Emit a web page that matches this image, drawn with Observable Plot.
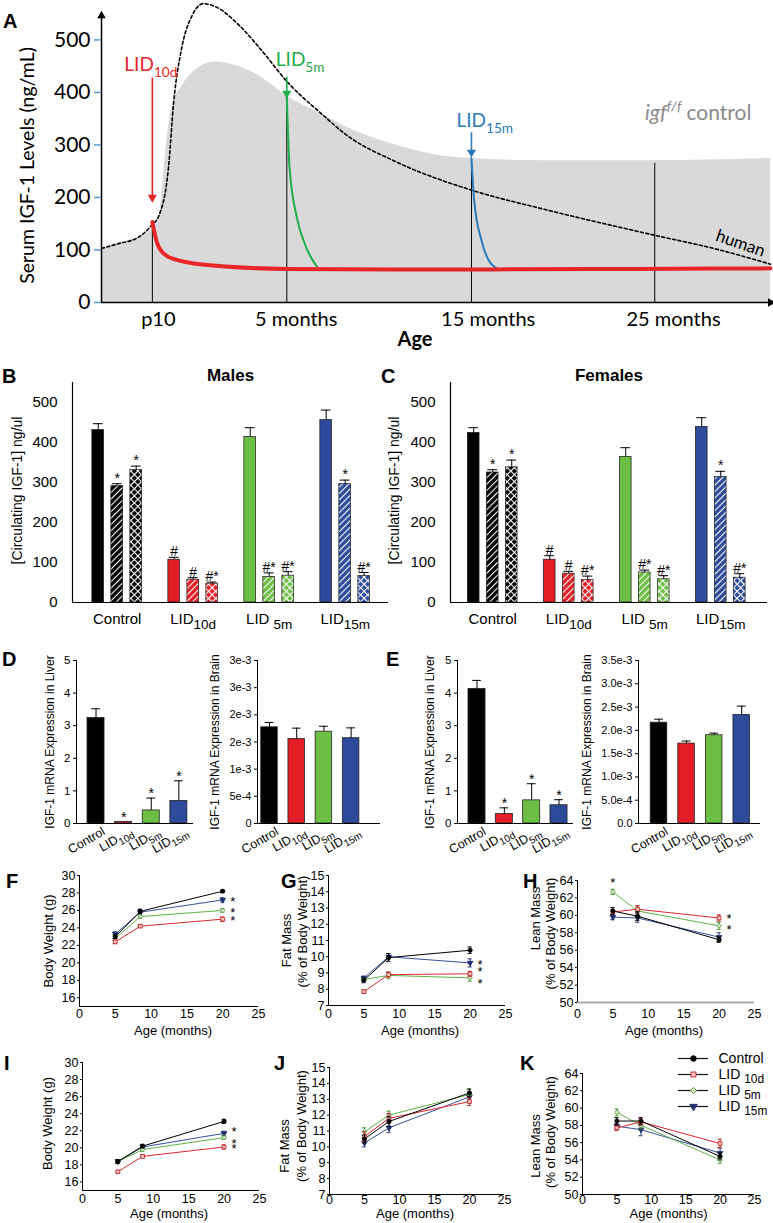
<!DOCTYPE html>
<html><head><meta charset="utf-8">
<script src="https://cdn.jsdelivr.net/npm/d3@7"></script>
<script src="https://cdn.jsdelivr.net/npm/@observablehq/plot@0.6"></script>
<style>
body{margin:0;background:#fff}
#fig{position:relative;width:773px;height:1223px;overflow:hidden;background:#fff;font-family:"Liberation Sans",Arial,sans-serif}
.letter{position:absolute;font-weight:bold;font-size:20px;line-height:1;font-family:"Liberation Sans",Arial,sans-serif}
</style></head>
<body><div id="fig"></div>
<script>
// ================= DATA =================
// Panel A (schematic): age axis in relative units (0-100), serum IGF-1 in ng/mL
const aAgeTicks = ["p10", "5 months", "15 months", "25 months"];
const aAgeTickAt = [8.5, 29.1, 57.8, 85.5];
const aYTicks = [0, 100, 200, 300, 400, 500];
const aTreatX = [7.6, 27.7, 55.3, 82.7];
const aTreatTop = [153, 391, 275, 265];
const aCtrlX = [0, 3.4, 7.1, 8.6, 9.1, 9.6, 10.4, 12.2, 14.4, 17, 20.4, 24, 27.7, 33, 38, 44, 50, 55.3, 66, 81.6, 100];
const aCtrlY = [100, 115, 134, 159, 220, 287, 365, 415, 446, 458, 450, 428, 393, 358, 326, 300, 281, 274, 270, 270, 274];
const aHumanX = [0, 2.5, 5.5, 7.5, 8.6, 10, 10.8, 11.9, 13.7, 15.2, 17.4, 20.4, 24, 27.7, 33, 36.5, 44, 55.3, 66, 82.7, 91.8, 100];
const aHumanY = [103, 112, 124, 147, 166, 255, 383, 479, 550, 569, 561, 530, 479, 421, 358, 320, 268, 214, 178, 128, 102, 73];
const aLid10dX = [7.6, 8.2, 9.3, 11, 13, 18, 27.7, 44, 58.8, 80, 100];
const aLid10dY = [153, 118, 93, 82, 76, 69, 64, 63, 63, 64, 65];
const aLid5mX = [27.7, 28.1, 29.2, 30.6, 32.5];
const aLid5mY = [391, 258, 162, 105, 63];
const aLid15mX = [55.3, 55.7, 56.8, 57.9, 59.4];
const aLid15mY = [275, 195, 118, 80, 63];
const aArrowX = [7.6, 27.7, 55.3];
const aArrowFrom = [427, 429, 323];
const aArrowTo = [200, 398, 286];
const aArrowLabels = ["LID_{10d}", "LID_{5m}", "LID_{15m}"];

// Panels B/C: circulating IGF-1 (ng/ul); per group: [solid, hatched, cross-hatched]
const bcGroups = ["Control", "LID_{10d}", "LID _{5m}", "LID_{15m}"];
const bcTicks = [0, 100, 200, 300, 400, 500];
const malesVal = [[431, 291, 331], [107, 57, 47], [414, 64, 67], [456, 296, 66]];
const malesErr = [[16, 6, 10], [6, 5, 4], [23, 10, 10], [25, 10, 9]];
const malesSig = [["", "*", "*"], ["#", "#", "#*"], ["", "#*", "#*"], ["", "*", "#*"]];
const femalesVal = [[424, 325, 338], [107, 72, 56], [364, 75, 58], [439, 314, 62]];
const femalesErr = [[13, 7, 18], [10, 6, 10], [23, 6, 9], [23, 14, 10]];
const femalesSig = [["", "*", "*"], ["#", "#", "#*"], ["", "#*", "#*"], ["", "*", "#*"]];

// Panels D/E: IGF-1 mRNA expression
const mrnaGroups = ["Control", "LID_{10d}", "LID_{5m}", "LID_{15m}"];
const liverTicks = [0, 1, 2, 3, 4, 5];
const dLiverVal = [3.24, 0.05, 0.40, 0.69];
const dLiverErr = [0.28, 0, 0.38, 0.62];
const dLiverSig = ["", "*", "*", "*"];
const dBrainVal = [1.77e-3, 1.555e-3, 1.69e-3, 1.57e-3];
const dBrainErr = [0.09e-3, 0.2e-3, 0.1e-3, 0.19e-3];
const dBrainTicks = [0, 5e-4, 1e-3, 1.5e-3, 2e-3, 2.5e-3, 3e-3];
const dBrainTickLabels = ["0", "5e-4", "1e-3", "2e-3", "2e-3", "3e-3", "3e-3"];
const eLiverVal = [4.13, 0.29, 0.71, 0.56];
const eLiverErr = [0.26, 0.19, 0.51, 0.17];
const eLiverSig = ["", "*", "*", "*"];
const eBrainVal = [2.165e-3, 1.716e-3, 1.895e-3, 2.33e-3];
const eBrainErr = [0.075e-3, 0.055e-3, 0.045e-3, 0.19e-3];
const eBrainTicks = [0, 5e-4, 1e-3, 1.5e-3, 2e-3, 2.5e-3, 3e-3, 3.5e-3];
const eBrainTickLabels = ["0.0", "5.0e-4", "1.0e-3", "1.5e-3", "2.0e-3", "2.5e-3", "3.0e-3", "3.5e-3"];

// Panels F-K: series Control, LID10d, LID5m, LID15m at ages (months)
const months = [5, 8.5, 20];
const monthTicks = [0, 5, 10, 15, 20, 25];
const legendLabels = ["Control", "LID _{10d}", "LID _{5m}", "LID _{15m}"];
const fVal = [[23.0, 25.9, 28.2], [22.4, 24.2, 25.0], [22.8, 25.3, 26.0], [23.3, 25.8, 27.2]];
const fErr = [[0.2, 0.25, 0.15], [0.2, 0.15, 0.25], [0.25, 0.2, 0.2], [0.25, 0.25, 0.25]];
const gVal = [[8.55, 9.95, 10.4], [7.85, 8.9, 8.95], [8.6, 8.85, 8.7], [8.7, 10.0, 9.62]];
const gErr = [[0.15, 0.25, 0.2], [0.1, 0.15, 0.15], [0.1, 0.2, 0.2], [0.1, 0.2, 0.25]];
const hVal = [[60.5, 59.9, 57.2], [60.4, 60.7, 59.7], [62.7, 60.5, 58.8], [59.8, 59.7, 57.5]];
const hErr = [[0.4, 0.5, 0.3], [0.3, 0.4, 0.35], [0.3, 0.6, 0.4], [0.3, 0.5, 0.5]];
const iVal = [[18.4, 20.2, 23.1], [17.2, 19.0, 20.1], [18.4, 19.8, 21.2], [18.4, 20.1, 21.7]];
const iErr = [[0.2, 0.2, 0.25], [0.15, 0.15, 0.25], [0.2, 0.2, 0.2], [0.2, 0.2, 0.25]];
const jVal = [[10.5, 11.6, 13.4], [10.65, 11.8, 12.85], [10.95, 12.0, 13.3], [10.25, 11.2, 13.15]];
const jErr = [[0.25, 0.3, 0.25], [0.3, 0.3, 0.25], [0.25, 0.25, 0.3], [0.25, 0.3, 0.3]];
const kVal = [[58.5, 58.5, 54.4], [57.7, 58.4, 55.9], [59.5, 58.0, 54.0], [57.9, 57.5, 54.8]];
const kErr = [[0.4, 0.4, 0.4], [0.3, 0.4, 0.5], [0.4, 0.4, 0.4], [0.3, 0.7, 0.6]];
// significance stars: [series, month index, placement, vertical nudge]
const fStars = [[1, 2, "r", 2], [2, 2, "r", 2], [3, 2, "r", 2]];
const gStars = [[1, 2, "r", -2], [2, 2, "r", 6], [3, 2, "r", 2]];
const hStars = [[1, 2, "r", 1], [2, 2, "r", 4], [2, 0, "t", -9]];
const iStars = [[1, 2, "r", 2], [2, 2, "r", 6], [3, 2, "r", -1]];

// ================= STYLE =================
const NS = "http://www.w3.org/2000/svg";
const fig = document.getElementById("fig");
const SANS = "'Liberation Sans', Arial, sans-serif";
const NARROW = "'Liberation Sans Narrow', 'Arial Narrow', 'Liberation Sans', Arial, sans-serif";
const barColors = ["#000000", "#e41e26", "#6dbe45", "#2e4b9b"];
const barKeys = ["k", "r", "g", "b"];
const barTypes = ["solid", "hatch", "cross"];
const serColor = ["#000000", "#e0262b", "#5fb346", "#3850a0"];
const serSymbol = ["circle", "square", "diamond2", "triangle"];
const serFill = ["#000000", "#f6c9c9", "#d6ecc9", "#1e2f6e"];
const serStroke = ["#000000", "#c0161c", "#3f8f2a", "#1e2f6e"];
const serRotate = [0, 0, 0, 180];
const MID = {textAnchor: "middle", lineAnchor: "middle"};

function place(svg, left, top) {
  svg.style.position = "absolute";
  svg.style.left = left + "px";
  svg.style.top = top + "px";
  svg.style.overflow = "visible";
  fig.appendChild(svg);
  return svg;
}
function letter(ch, left, top) {
  const d = document.createElement("div");
  d.className = "letter"; d.textContent = ch;
  d.style.left = left + "px"; d.style.top = top + "px";
  fig.appendChild(d);
}
function rich(svg, {sub = 0.8, shift = 0.3, sup = 0.7, supShift = 0.45} = {}) {
  svg.querySelectorAll("text").forEach(t => {
    const targets = t.querySelector("tspan") ? [...t.querySelectorAll("tspan")] : [t];
    targets.forEach(el => {
      const s = el.textContent;
      if (!/[_^]\{/.test(s)) return;
      const fs = parseFloat(getComputedStyle(el).fontSize) || 12;
      el.textContent = "";
      const re = /([_^])\{([^}]*)\}/g;
      let last = 0, m, cur = 0;
      const add = (str, off, scale) => {
        if (!str) return;
        const ts = document.createElementNS(NS, "tspan");
        ts.textContent = str;
        const dy = off - cur;
        if (dy) ts.setAttribute("dy", dy.toFixed(2));
        if (scale !== 1) ts.setAttribute("font-size", (fs * scale).toFixed(2));
        cur = off;
        el.appendChild(ts);
      };
      while ((m = re.exec(s))) {
        if (m.index > last) add(s.slice(last, m.index), 0, 1);
        if (m[1] === "_") add(m[2], fs * shift, sub); else add(m[2], -fs * supShift, sup);
        last = re.lastIndex;
      }
      if (last < s.length) add(s.slice(last), 0, 1);
    });
  });
}
const baseStyle = (ff) => ({fontFamily: ff, overflow: "visible", background: "transparent", color: "#000"});

// ================= PANEL A =================
{
  const zip = (xs, ys) => xs.map((x, i) => ({x, v: ys[i]}));
  const treat = aTreatX.map((x, i) => ({x, top: aTreatTop[i]}));
  const aColors = ["#e8262a", "#1fae4b", "#2a7ab9"];
  const arrowMarks = [];
  aArrowX.forEach((x, i) => {
    const row = [{x, from: aArrowFrom[i], to: aArrowTo[i], label: aArrowLabels[i]}];
    arrowMarks.push(Plot.ruleX(row, {x: "x", y1: "from", y2: "to", stroke: aColors[i], strokeWidth: 1.6}));
    arrowMarks.push(Plot.dot(row, {x: "x", y: "to", symbol: "triangle", rotate: 180, r: 3.4, fill: aColors[i], stroke: "none"}));
    const off = [[-28, -13], [-11, -17], [-15, -12]][i];
    arrowMarks.push(Plot.text(row, {x: "x", y: "from", text: "label", textAnchor: "start", lineAnchor: "middle", dx: off[0], dy: off[1], fill: aColors[i], fontSize: 19}));
  });
  const svg = Plot.plot({
    width: 773, height: 345, marginLeft: 101, marginRight: 3, marginTop: 0, marginBottom: 43,
    x: {domain: [0, 100], axis: null}, y: {domain: [0, 575], axis: null},
    style: baseStyle("Lato, 'Open Sans', sans-serif"),
    marks: [
      Plot.areaY(zip(aCtrlX, aCtrlY), {x: "x", y: "v", fill: "#d9d9d9", curve: "monotone-x"}),
      Plot.ruleX(treat, {x: "x", y1: 0, y2: "top", stroke: "#000", strokeWidth: 1}),
      Plot.line(zip(aHumanX, aHumanY), {x: "x", y: "v", stroke: "#000", strokeWidth: 1.6, strokeDasharray: "3,2.5", curve: "monotone-x"}),
      Plot.line(zip(aLid5mX, aLid5mY), {x: "x", y: "v", stroke: "#1fae4b", strokeWidth: 2, curve: "monotone-x"}),
      Plot.line(zip(aLid15mX, aLid15mY), {x: "x", y: "v", stroke: "#2a7ab9", strokeWidth: 2, curve: "monotone-x"}),
      Plot.line(zip(aLid10dX, aLid10dY), {x: "x", y: "v", stroke: "#e8262a", strokeWidth: 4, curve: "monotone-x"}),
      ...arrowMarks,
      Plot.ruleY([0], {stroke: "#000", strokeWidth: 1.5}),
      Plot.ruleX([0], {y1: 0, y2: 546, stroke: "#000", strokeWidth: 1.5}),
      Plot.dot([100], {x: d => d, y: 0, symbol: "triangle", rotate: 90, r: 3.2, fill: "#000"}),
      Plot.dot([546], {x: 0, y: d => d, symbol: "triangle", r: 3.2, fill: "#000"}),
      Plot.axisY(aYTicks, {tickSize: 7, tickPadding: 4, stroke: "#5b9bd5", strokeWidth: 1.5, fontSize: 21, label: null}),
      Plot.text(aAgeTicks.map((label, i) => ({label, at: aAgeTickAt[i]})), {x: "at", text: "label", frameAnchor: "bottom", ...MID, dy: 17, fontSize: 20}),
      Plot.text(["Age"], {frameAnchor: "bottom", ...MID, dx: -21, dy: 37, fontSize: 20, fontWeight: "bold"}),
      Plot.text(["Serum IGF-1 Levels (ng/mL)"], {frameAnchor: "left", ...MID, rotate: -90, dx: -74, dy: 14, fontSize: 19.5}),
      Plot.text(["igf^{f/f}"], {frameAnchor: "left", textAnchor: "end", lineAnchor: "middle", dx: 580, dy: -38, fontSize: 21, fontStyle: "italic", fill: "#8a8a8a"}),
      Plot.text(["control"], {frameAnchor: "left", textAnchor: "start", lineAnchor: "middle", dx: 585, dy: -38, fontSize: 21, fill: "#8a8a8a"}),
      Plot.text(["human"], {frameAnchor: "left", ...MID, rotate: 19, dx: 639, dy: 92, fontSize: 17})
    ]
  });
  place(svg, 0, 0);
  rich(svg, {sub: 0.72, shift: 0.3, sup: 0.68, supShift: 0.45});
  letter("A", 3, 11);
}

// ================= PANELS B / C =================
function makePattern(id, color, cross) {
  const s = cross ? 5 : 4.5;
  const p = document.createElementNS(NS, "pattern");
  p.setAttribute("id", id); p.setAttribute("patternUnits", "userSpaceOnUse");
  p.setAttribute("width", s); p.setAttribute("height", s);
  p.setAttribute("patternTransform", "rotate(45)");
  const mk = (tag, attrs) => { const e = document.createElementNS(NS, tag); for (const k in attrs) e.setAttribute(k, attrs[k]); p.appendChild(e); };
  mk("rect", {width: s, height: s, fill: color});
  mk("line", {x1: s / 2, y1: 0, x2: s / 2, y2: s, stroke: "#fff", "stroke-width": 1.1});
  if (cross) mk("line", {x1: 0, y1: s / 2, x2: s, y2: s / 2, stroke: "#fff", "stroke-width": 1.1});
  return p;
}
function barPanelBC({prefix, vals, errs, sigs, title, left, width, ml, mr, xDomain, ytDx}) {
  const rows = [];
  vals.forEach((arr, g) => arr.forEach((v, t) => rows.push({g, t, pos: g * 4 + t, v, e: errs[g][t], sig: sigs[g][t]})));
  const fillOf = d => d.t === 0 ? barColors[d.g] : `url(#${prefix}-${barTypes[d.t]}-${barKeys[d.g]})`;
  const svg = Plot.plot({
    width, height: 275, marginLeft: ml, marginRight: mr, marginTop: 17, marginBottom: 38,
    x: {domain: xDomain, axis: null}, y: {domain: [0, 550], axis: null},
    color: {type: "identity"},
    style: baseStyle(SANS),
    marks: [
      Plot.rect(rows, {x1: "pos", x2: d => d.pos + 1, y1: 0, y2: "v", fill: fillOf, stroke: "#1a1a1a", strokeWidth: 0.7, insetLeft: 3.65, insetRight: 3.65}),
      Plot.ruleX(rows, {x: d => d.pos + 0.5, y1: "v", y2: d => d.v + d.e, stroke: "#000"}),
      Plot.ruleY(rows, {y: d => d.v + d.e, x1: d => d.pos + 0.24, x2: d => d.pos + 0.76, stroke: "#000"}),
      Plot.text(rows.filter(d => d.sig), {x: d => d.pos + 0.5, y: d => d.v + d.e, text: "sig", lineAnchor: "bottom", dy: -1, fontSize: 14}),
      Plot.ruleY([0], {stroke: "#000", strokeWidth: 1.2}),
      Plot.ruleX([xDomain[0]], {stroke: "#000", strokeWidth: 1.2}),
      Plot.axisY(bcTicks, {tickSize: 0, tickPadding: 15, fontSize: 15, label: null}),
      Plot.text(bcGroups, {x: (d, i) => i * 4 + 1.5, text: d => d, frameAnchor: "bottom", ...MID, dy: 17, fontSize: 15}),
      Plot.text([title], {frameAnchor: "top", ...MID, dy: -7, fontWeight: "bold", fontSize: 17}),
      Plot.text(["[Circulating IGF-1] ng/ul"], {frameAnchor: "left", ...MID, rotate: -90, dx: ytDx, dy: -2, fontSize: 14})
    ]
  });
  const defs = document.createElementNS(NS, "defs");
  barKeys.forEach((k, g) => {
    defs.appendChild(makePattern(`${prefix}-hatch-${k}`, barColors[g], false));
    defs.appendChild(makePattern(`${prefix}-cross-${k}`, barColors[g], true));
  });
  svg.insertBefore(defs, svg.firstChild);
  place(svg, left, 365);
  rich(svg, {sub: 0.9, shift: 0.3});
}
barPanelBC({prefix: "b", vals: malesVal, errs: malesErr, sigs: malesSig, title: "Males", left: 0, width: 395, ml: 72, mr: 7, xDomain: [-0.853, 15.78], ytDx: -55});
barPanelBC({prefix: "c", vals: femalesVal, errs: femalesErr, sigs: femalesSig, title: "Females", left: 380, width: 393, ml: 70, mr: 6, xDomain: [-0.721, 15.96], ytDx: -56});
letter("B", 2, 366);
letter("C", 381, 366);

// ================= PANELS D / E =================
function mrnaPanel({left, width, ml, mr, xDomain, yDomain, ticks, tickLabels, vals, errs, sigs, ytitle, ytDx, inset, tickFont}) {
  const rows = vals.map((v, i) => ({i, v, e: errs[i], sig: sigs ? sigs[i] : "", color: barColors[i]}));
  const withErr = rows.filter(d => d.e > 0);
  const svg = Plot.plot({
    width, height: 215, marginLeft: ml, marginRight: mr, marginTop: 15, marginBottom: 37,
    x: {domain: xDomain, axis: null}, y: {domain: yDomain, axis: null},
    color: {type: "identity"},
    style: baseStyle(SANS),
    marks: [
      Plot.rect(rows, {x1: "i", x2: d => d.i + 1, y1: 0, y2: "v", fill: "color", stroke: "#222", strokeWidth: 0.8, insetLeft: inset, insetRight: inset}),
      Plot.ruleX(withErr, {x: d => d.i + 0.5, y1: "v", y2: d => d.v + d.e, stroke: "#000"}),
      Plot.ruleY(withErr, {y: d => d.v + d.e, x1: d => d.i + 0.34, x2: d => d.i + 0.66, stroke: "#000"}),
      Plot.text(rows.filter(d => d.sig), {x: d => d.i + 0.5, y: d => d.v + d.e, text: "sig", lineAnchor: "bottom", dy: 0, fontSize: 14}),
      Plot.ruleY([yDomain[0]], {stroke: "#000", strokeWidth: 1}),
      Plot.ruleX([xDomain[0]], {stroke: "#000", strokeWidth: 1}),
      Plot.axisY(ticks, {tickSize: 3, tickPadding: 3, fontSize: tickFont, label: null,
        tickFormat: tickLabels ? (d => tickLabels[ticks.indexOf(d)]) : (d => String(d))}),
      Plot.text(mrnaGroups, {x: (d, i) => i + 0.5, text: d => d, frameAnchor: "bottom", rotate: -30, textAnchor: "end", lineAnchor: "middle", dx: 8, dy: 7, fontSize: 12.5}),
      Plot.text([ytitle], {frameAnchor: "left", ...MID, rotate: -90, dx: ytDx, dy: 0, fontSize: 12})
    ]
  });
  place(svg, left, 645);
  rich(svg, {sub: 0.8, shift: 0.3});
}
mrnaPanel({left: 0, width: 200, ml: 76, mr: 7, xDomain: [-0.207, 4.03], yDomain: [0, 5], ticks: liverTicks, vals: dLiverVal, errs: dLiverErr, sigs: dLiverSig, ytitle: "IGF-1 mRNA Expression in Liver", ytDx: -26, inset: 5.3, tickFont: 11.5});
mrnaPanel({left: 200, width: 190, ml: 57, mr: 10, xDomain: [0.059, 4.58], yDomain: [0, 3e-3], ticks: dBrainTicks, tickLabels: dBrainTickLabels, vals: dBrainVal, errs: dBrainErr, ytitle: "IGF-1 mRNA Expression in Brain", ytDx: -42, inset: 5.35, tickFont: 11});
mrnaPanel({left: 380, width: 200, ml: 77, mr: 7, xDomain: [-0.214, 4.03], yDomain: [0, 5], ticks: liverTicks, vals: eLiverVal, errs: eLiverErr, sigs: eLiverSig, ytitle: "IGF-1 mRNA Expression in Liver", ytDx: -27, inset: 5.15, tickFont: 11.5});
mrnaPanel({left: 580, width: 193, ml: 58, mr: 13, xDomain: [-0.243, 4.18], yDomain: [0, 3.5e-3], ticks: eBrainTicks, tickLabels: eBrainTickLabels, vals: eBrainVal, errs: eBrainErr, ytitle: "IGF-1 mRNA Expression in Brain", ytDx: -51, inset: 5.5, tickFont: 11});
letter("D", 2, 649);
letter("E", 386, 649);

// ================= PANELS F - K =================
function linePanel(p) {
  const marks = [
    Plot.ruleY([p.yDomain[0]], {stroke: p.xAxisColor || "#000", strokeWidth: p.xAxisWidth || 1}),
    Plot.ruleX([0], {stroke: "#000", strokeWidth: 1}),
    Plot.axisY(p.yTicks, {tickSize: 2, tickPadding: 2, fontSize: 12.5, fontFamily: NARROW, label: null}),
    Plot.axisX(monthTicks, {tickSize: 0, tickPadding: p.xPad, fontSize: 12.5, fontFamily: NARROW, label: null}),
    Plot.text(["Age (months)"], {frameAnchor: "bottom", ...MID, dx: p.atDx, dy: p.atDy, fontSize: 13})
  ];
  p.titles.forEach(([txt, dx, dy]) => marks.push(Plot.text([txt], {frameAnchor: "left", ...MID, rotate: -90, dx, dy, fontSize: 13})));
  const order = [3, 2, 1, 0];
  const series = p.vals.map((arr, s) => arr.map((v, k) => ({m: months[k], v, e: p.errs[s][k]})));
  order.forEach(s => marks.push(Plot.line(series[s], {x: "m", y: "v", stroke: serColor[s], strokeWidth: 1})));
  order.forEach(s => {
    marks.push(Plot.ruleX(series[s], {x: "m", y1: d => d.v - d.e, y2: d => d.v + d.e, stroke: serStroke[s], strokeWidth: 0.9}));
    marks.push(Plot.ruleY(series[s], {y: d => d.v + d.e, x1: d => d.m - 0.3, x2: d => d.m + 0.3, stroke: serStroke[s], strokeWidth: 0.9}));
    marks.push(Plot.ruleY(series[s], {y: d => d.v - d.e, x1: d => d.m - 0.3, x2: d => d.m + 0.3, stroke: serStroke[s], strokeWidth: 0.9}));
    marks.push(Plot.dot(series[s], {x: "m", y: "v", symbol: serSymbol[s], rotate: serRotate[s], r: 2.1, fill: serFill[s], stroke: serStroke[s], strokeWidth: 0.8}));
  });
  if (p.stars) {
    p.stars.forEach(([s, k, pos, nudge]) => {
      const row = [{m: months[k], v: p.vals[s][k]}];
      marks.push(Plot.text(row, {x: "m", y: "v", text: () => "*", dx: pos === "r" ? 10 : 0, dy: nudge, fontSize: 13}));
    });
  }
  const svg = Plot.plot({
    width: p.width, height: p.height, marginLeft: p.ml, marginRight: p.mr, marginTop: p.mt, marginBottom: p.mb,
    x: {domain: [0, 25], axis: null}, y: {domain: p.yDomain, axis: null},
    style: baseStyle(SANS),
    marks
  });
  place(svg, p.left, p.top);
}
const range = (a, b, s) => d3.range(a, b + s / 2, s);
linePanel({left: 0, top: 860, width: 265, height: 180, ml: 79, mr: 7, mt: 15, mb: 34, yDomain: [15, 30], yTicks: range(16, 30, 2), vals: fVal, errs: fErr, stars: fStars, xPad: 3, atDx: 4, atDy: 24, titles: [["Body Weight (g)", -31, 0]]});
linePanel({left: 265, top: 860, width: 250, height: 180, ml: 63, mr: 10, mt: 15, mb: 35, yDomain: [7, 15], yTicks: range(7, 15, 1), vals: gVal, errs: gErr, stars: gStars, xPad: 4, atDx: 3, atDy: 25, titles: [["Fat Mass", -42, 0], ["(% of Body Weight)", -26, -9]]});
linePanel({left: 515, top: 860, width: 258, height: 180, ml: 62, mr: 19, mt: 20, mb: 38, yDomain: [50, 64], yTicks: range(50, 64, 2), vals: hVal, errs: hErr, stars: hStars, xPad: 7, atDx: -2, atDy: 28, xAxisColor: "#aaaaaa", xAxisWidth: 2, titles: [["Lean Mass", -42, -23], ["(% of Body Weight)", -27, -8]]});
linePanel({left: 0, top: 1045, width: 265, height: 178, ml: 82, mr: 6, mt: 17, mb: 33, yDomain: [15, 30], yTicks: range(16, 30, 2), vals: iVal, errs: iErr, stars: iStars, xPad: 4, atDx: -2, atDy: 23, titles: [["Body Weight (g)", -35, -3]]});
linePanel({left: 265, top: 1045, width: 250, height: 178, ml: 64, mr: 11, mt: 22, mb: 29, yDomain: [7, 15], yTicks: range(7, 15, 1), vals: jVal, errs: jErr, xPad: 1, atDx: -2, atDy: 19, titles: [["Fat Mass", -45, 15], ["(% of Body Weight)", -28, -5]]});
linePanel({left: 515, top: 1045, width: 258, height: 178, ml: 67, mr: 19, mt: 28, mb: 29, yDomain: [50, 64], yTicks: range(50, 64, 2), vals: kVal, errs: kErr, xPad: 1, atDx: 0, atDy: 19, titles: [["Lean Mass", -47, 12], ["(% of Body Weight)", -32, -2]]});
letter("F", 6, 871); letter("G", 281, 871); letter("H", 523, 871);
letter("I", 4, 1053); letter("J", 274, 1053); letter("K", 520, 1053);

// legend for F-K
{
  const rows = legendLabels.map((label, s) => ({label, s}));
  const marks = [Plot.ruleY(rows, {y: "label", x1: 0, x2: 1, stroke: "#111", strokeWidth: 1.2})];
  rows.forEach(r => marks.push(Plot.dot([r], {x: 0.5, y: "label", symbol: serSymbol[r.s], rotate: serRotate[r.s], r: 2.8, fill: serFill[r.s], stroke: serStroke[r.s], strokeWidth: 0.9})));
  marks.push(Plot.text(rows, {x: 1, y: "label", text: "label", textAnchor: "start", dx: 10, fontSize: 14}));
  const svg = Plot.plot({
    width: 103, height: 68, marginLeft: 8, marginRight: 65, marginTop: 1, marginBottom: 1,
    x: {domain: [0, 1], axis: null}, y: {domain: legendLabels, axis: null},
    style: baseStyle(SANS),
    marks
  });
  place(svg, 670, 1048);
  rich(svg, {sub: 0.85, shift: 0.3});
}
</script>
</body></html>
